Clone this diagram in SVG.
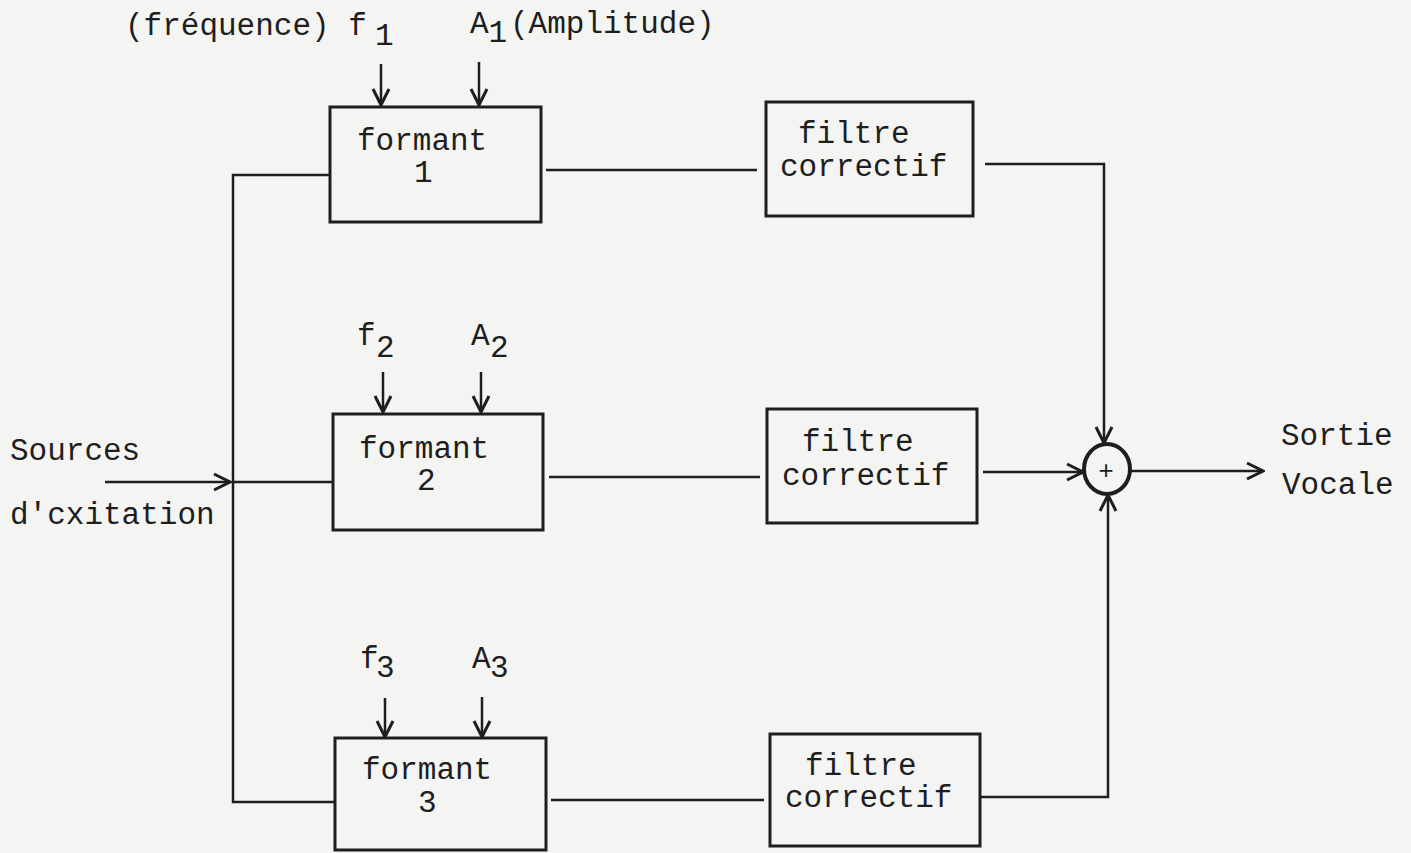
<svg xmlns="http://www.w3.org/2000/svg" width="1411" height="853" viewBox="0 0 1411 853">
<defs>
<style>
.t{font-family:"Liberation Mono","Courier New",monospace;font-size:31px;fill:#1e1e1e}
.b{fill:none;stroke:#1e1e1e;stroke-width:3}
.c{fill:none;stroke:#1e1e1e;stroke-width:2.5}
</style>
<marker id="ah" markerUnits="userSpaceOnUse" markerWidth="22" markerHeight="22" viewBox="0 0 22 22" refX="20" refY="11" orient="auto">
<path d="M4,3 L20,11 L4,19" fill="none" stroke="#1e1e1e" stroke-width="3"/>
</marker>
</defs>
<rect width="1411" height="853" fill="#f4f4f2"/>
<g id="connectors" class="c">
<line x1="105" y1="482" x2="230" y2="482" marker-end="url(#ah)"/>
<polyline points="330,175 233,175 233,802 334,802"/>
<line x1="233" y1="482" x2="333" y2="482"/>
<line x1="546" y1="170" x2="757" y2="170"/>
<line x1="549" y1="477" x2="760" y2="477"/>
<line x1="551" y1="800" x2="764" y2="800"/>
<polyline points="985,164 1104,164 1104,443" marker-end="url(#ah)"/>
<line x1="983" y1="472" x2="1083" y2="472" marker-end="url(#ah)"/>
<polyline points="980,797 1108,797 1108,495" marker-end="url(#ah)"/>
<line x1="1131" y1="471" x2="1263" y2="471" marker-end="url(#ah)"/>
<line x1="381" y1="64" x2="381" y2="105" marker-end="url(#ah)"/>
<line x1="479" y1="62" x2="479" y2="105" marker-end="url(#ah)"/>
<line x1="383" y1="372" x2="383" y2="412" marker-end="url(#ah)"/>
<line x1="481" y1="372" x2="481" y2="412" marker-end="url(#ah)"/>
<line x1="385" y1="698" x2="385" y2="737" marker-end="url(#ah)"/>
<line x1="482" y1="697" x2="482" y2="737" marker-end="url(#ah)"/>
</g>
<g id="labels">
<text class="t" x="125" y="35">(fréquence) f<tspan x="375" y="45">1</tspan></text>
<text class="t" x="470" y="33">A<tspan y="42">1</tspan><tspan x="510" y="33">(Amplitude)</tspan></text>
<text class="t" x="357" y="345">f<tspan x="376" y="357">2</tspan></text>
<text class="t" x="471" y="345">A<tspan x="490" y="357">2</tspan></text>
<text class="t" x="360" y="668">f<tspan x="376" y="677">3</tspan></text>
<text class="t" x="472" y="668">A<tspan x="490" y="677">3</tspan></text>
<text class="t" x="10" y="460">Sources</text>
<text class="t" x="10" y="524">d'cxitation</text>
<text class="t" x="1281" y="445">Sortie</text>
<text class="t" x="1282" y="494">Vocale</text>
</g>
<g id="formant1">
<rect class="b" x="330" y="107" width="211" height="115"/>
<text class="t" x="357" y="150">formant</text>
<text class="t" x="414" y="182">1</text>
</g>
<g id="formant2">
<rect class="b" x="333" y="414" width="210" height="116"/>
<text class="t" x="359" y="458">formant</text>
<text class="t" x="417" y="490">2</text>
</g>
<g id="formant3">
<rect class="b" x="335" y="738" width="211" height="112"/>
<text class="t" x="362" y="779">formant</text>
<text class="t" x="418" y="812">3</text>
</g>
<g id="filtre1">
<rect class="b" x="766" y="102" width="207" height="114"/>
<text class="t" x="798" y="143">filtre</text>
<text class="t" x="780" y="176">correctif</text>
</g>
<g id="filtre2">
<rect class="b" x="767" y="409" width="210" height="114"/>
<text class="t" x="802" y="451">filtre</text>
<text class="t" x="782" y="485">correctif</text>
</g>
<g id="filtre3">
<rect class="b" x="770" y="734" width="210" height="112"/>
<text class="t" x="805" y="775">filtre</text>
<text class="t" x="785" y="807">correctif</text>
</g>
<g id="sum">
<ellipse cx="1107" cy="469" rx="23" ry="25" fill="none" stroke="#1e1e1e" stroke-width="4"/>
<text class="t" x="1106" y="479" text-anchor="middle" style="font-size:26px">+</text>
</g>
</svg>
